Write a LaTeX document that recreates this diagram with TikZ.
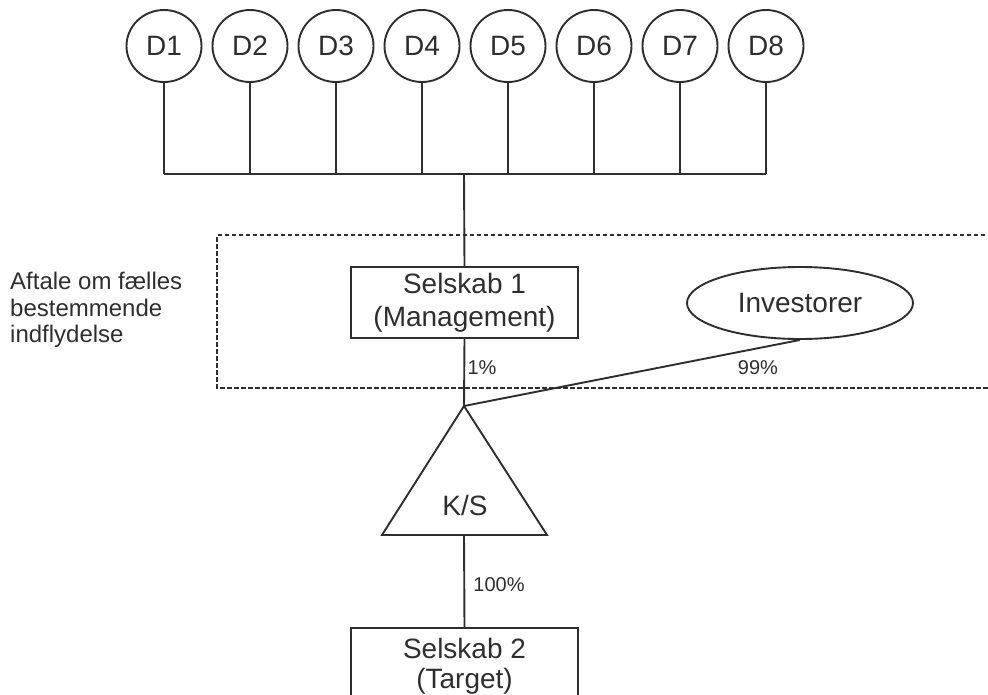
\documentclass[tikz,border=0pt]{standalone}
\usepackage{fontspec}
\setmainfont{Liberation Sans}
\usetikzlibrary{shapes.geometric}
\colorlet{ink}{black!82}
\tikzset{
  deltager/.style={draw=ink, text=ink, line width=1.9pt, ellipse, minimum width=75, minimum height=72, inner sep=0pt, font=\fontsize{28}{32}\selectfont},
  selskab/.style={draw=ink, text=ink, line width=1.9pt, rectangle, minimum width=227, minimum height=71, inner sep=0pt, align=center, font=\fontsize{28}{33}\selectfont},
  andel/.style={text=ink, inner sep=0pt, font=\fontsize{20}{24}\selectfont},
  forbindelse/.style={draw=ink, line width=1.9pt},
}
\begin{document}
\begin{tikzpicture}[x=1pt, y=-1pt]
    \useasboundingbox (0,0) rectangle (988,694);
    % D1..D8 on top
    \foreach \i in {1,...,8} \node[deltager] (d\i) at ({164 + 86*(\i-1)}, 46) {D\i};
    \coordinate (bus) at (464, 174);

    % agreement frame (open to the right)
    \draw[ink, line width=1.6pt, dash pattern=on 4.5pt off 2.5pt] (992,235) -| (217,388) -- (992,388);
    \node[text=ink, anchor=west, align=left, inner sep=0pt, font=\fontsize{24}{26.5}\selectfont] (aftale) at (10,310) {Aftale om fælles\\bestemmende\\indflydelse};

    \node[selskab] (sel1) at (464.5, 302.5) {Selskab 1\\(Management)};
    \node[deltager, minimum width=226, minimum height=72] (inv) at (800, 303) {Investorer};

    % K/S triangle
    \coordinate (ks top) at (464, 406);
    \coordinate (ks left) at (382, 535);
    \coordinate (ks right) at (547, 535);
    \coordinate (ks base) at (464, 535);
    \draw[forbindelse, line join=miter] (ks top) -- (ks left) -- (ks right) -- cycle;
    \node[text=ink, font=\fontsize{28}{32}\selectfont] (ks) at (465, 505) {K/S};

    \node[selskab, anchor=north, text depth=0pt, font=\fontsize{28}{30}\selectfont] (sel2) at (464.5, 627) {Selskab 2\\(Target)};

    % Edges: D to bus, bus to Selskab 1, owners to K/S
    \foreach \i in {1,...,8} \draw[forbindelse] (d\i.south) -- (d\i.south |- bus);
    \draw[forbindelse] (d1.south |- bus) -- (d8.south |- bus);
    \draw[forbindelse] (bus) -- (sel1.north);
    \draw[forbindelse] (sel1.south) -- (ks top);
    \draw[forbindelse] (inv.south) -- (ks top);
    \draw[forbindelse] (ks base) -- (sel2.north);

    \node[andel] (p1) at (482, 368) {1\%};
    \node[andel] (p99) at (758, 368) {99\%};
    \node[andel] (p100) at (499, 585) {100\%};
\end{tikzpicture}
\end{document}
